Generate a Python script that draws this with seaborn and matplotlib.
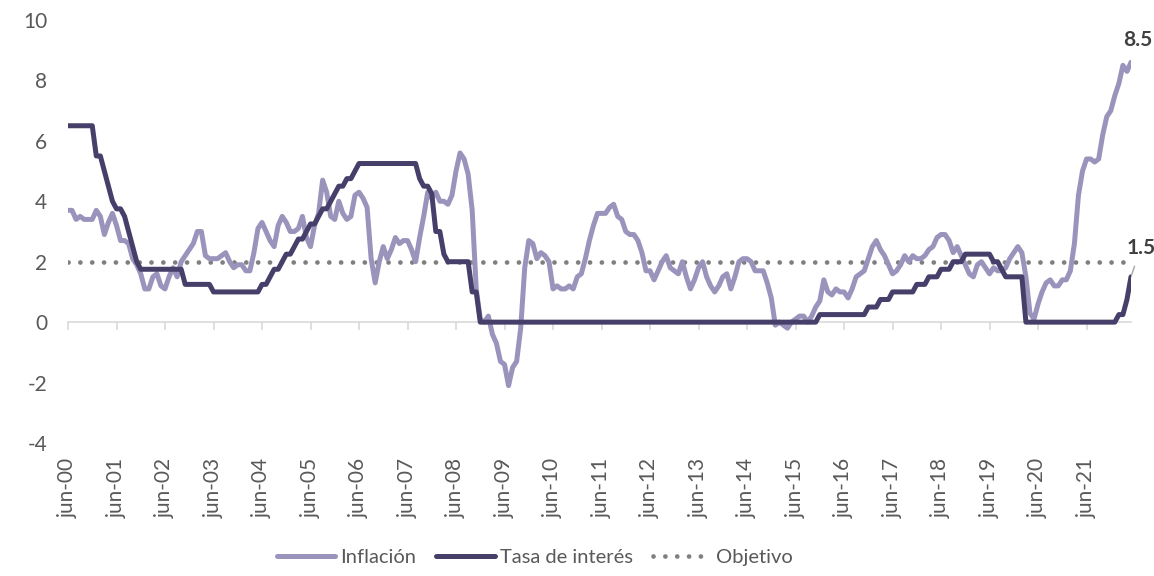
import numpy as np
import pandas as pd
import matplotlib
matplotlib.use("Agg")
import matplotlib.pyplot as plt
import seaborn as sns

# ---------------- data (monthly, jun-2000 .. may-2022) ----------------
inflacion = [
    # 2000 jun-dec
    3.7, 3.7, 3.4, 3.5, 3.4, 3.4, 3.4,
    # 2001
    3.7, 3.5, 2.9, 3.3, 3.6, 3.2, 2.7, 2.7, 2.6, 2.1, 1.9, 1.6,
    # 2002
    1.1, 1.1, 1.5, 1.6, 1.2, 1.1, 1.5, 1.8, 1.5, 2.0, 2.2, 2.4,
    # 2003
    2.6, 3.0, 3.0, 2.2, 2.1, 2.1, 2.1, 2.2, 2.3, 2.0, 1.8, 1.9,
    # 2004
    1.9, 1.7, 1.7, 2.3, 3.1, 3.3, 3.0, 2.7, 2.5, 3.2, 3.5, 3.3,
    # 2005
    3.0, 3.0, 3.1, 3.5, 2.8, 2.5, 3.2, 3.6, 4.7, 4.3, 3.5, 3.4,
    # 2006
    4.0, 3.6, 3.4, 3.5, 4.2, 4.3, 4.1, 3.8, 2.1, 1.3, 2.0, 2.5,
    # 2007
    2.1, 2.4, 2.8, 2.6, 2.7, 2.7, 2.4, 2.0, 2.8, 3.5, 4.3, 4.1,
    # 2008
    4.3, 4.0, 4.0, 3.9, 4.2, 5.0, 5.6, 5.4, 4.9, 3.7, 1.1, 0.1,
    # 2009
    0.0, 0.2, -0.4, -0.7, -1.3, -1.4, -2.1, -1.5, -1.3, -0.2, 1.8, 2.7,
    # 2010
    2.6, 2.1, 2.3, 2.2, 2.0, 1.1, 1.2, 1.1, 1.1, 1.2, 1.1, 1.5,
    # 2011
    1.6, 2.1, 2.7, 3.2, 3.6, 3.6, 3.6, 3.8, 3.9, 3.5, 3.4, 3.0,
    # 2012
    2.9, 2.9, 2.7, 2.3, 1.7, 1.7, 1.4, 1.7, 2.0, 2.2, 1.8, 1.7,
    # 2013
    1.6, 2.0, 1.5, 1.1, 1.4, 1.8, 2.0, 1.5, 1.2, 1.0, 1.2, 1.5,
    # 2014
    1.6, 1.1, 1.5, 2.0, 2.1, 2.1, 2.0, 1.7, 1.7, 1.7, 1.3, 0.8,
    # 2015
    -0.1, 0.0, -0.1, -0.2, 0.0, 0.1, 0.2, 0.2, 0.0, 0.2, 0.5, 0.7,
    # 2016
    1.4, 1.0, 0.9, 1.1, 1.0, 1.0, 0.8, 1.1, 1.5, 1.6, 1.7, 2.1,
    # 2017
    2.5, 2.7, 2.4, 2.2, 1.9, 1.6, 1.7, 1.9, 2.2, 2.0, 2.2, 2.1,
    # 2018
    2.1, 2.2, 2.4, 2.5, 2.8, 2.9, 2.9, 2.7, 2.3, 2.5, 2.2, 1.9,
    # 2019
    1.6, 1.5, 1.9, 2.0, 1.8, 1.6, 1.8, 1.7, 1.7, 1.8, 2.1, 2.3,
    # 2020
    2.5, 2.3, 1.5, 0.3, 0.1, 0.6, 1.0, 1.3, 1.4, 1.2, 1.2, 1.4,
    # 2021
    1.4, 1.7, 2.6, 4.2, 5.0, 5.4, 5.4, 5.3, 5.4, 6.2, 6.8, 7.0,
    # 2022 jan-may
    7.5, 7.9, 8.5, 8.3, 8.6,
]

tasa_interes = [
    # 2000 jun-dec
    6.5, 6.5, 6.5, 6.5, 6.5, 6.5, 6.5,
    # 2001
    5.5, 5.5, 5.0, 4.5, 4.0, 3.75, 3.75, 3.5, 3.0, 2.5, 2.0, 1.75,
    # 2002
    1.75, 1.75, 1.75, 1.75, 1.75, 1.75, 1.75, 1.75, 1.75, 1.75, 1.25, 1.25,
    # 2003
    1.25, 1.25, 1.25, 1.25, 1.25, 1.0, 1.0, 1.0, 1.0, 1.0, 1.0, 1.0,
    # 2004
    1.0, 1.0, 1.0, 1.0, 1.0, 1.25, 1.25, 1.5, 1.75, 1.75, 2.0, 2.25,
    # 2005
    2.25, 2.5, 2.75, 2.75, 3.0, 3.25, 3.25, 3.5, 3.75, 3.75, 4.0, 4.25,
    # 2006
    4.5, 4.5, 4.75, 4.75, 5.0, 5.25, 5.25, 5.25, 5.25, 5.25, 5.25, 5.25,
    # 2007
    5.25, 5.25, 5.25, 5.25, 5.25, 5.25, 5.25, 5.25, 4.75, 4.5, 4.5, 4.25,
    # 2008
    3.0, 3.0, 2.25, 2.0, 2.0, 2.0, 2.0, 2.0, 2.0, 1.0, 1.0, 0.0,
    # 2009
    0, 0, 0, 0, 0, 0, 0, 0, 0, 0, 0, 0,
    # 2010
    0, 0, 0, 0, 0, 0, 0, 0, 0, 0, 0, 0,
    # 2011
    0, 0, 0, 0, 0, 0, 0, 0, 0, 0, 0, 0,
    # 2012
    0, 0, 0, 0, 0, 0, 0, 0, 0, 0, 0, 0,
    # 2013
    0, 0, 0, 0, 0, 0, 0, 0, 0, 0, 0, 0,
    # 2014
    0, 0, 0, 0, 0, 0, 0, 0, 0, 0, 0, 0,
    # 2015
    0, 0, 0, 0, 0, 0, 0, 0, 0, 0, 0, 0.25,
    # 2016
    0.25, 0.25, 0.25, 0.25, 0.25, 0.25, 0.25, 0.25, 0.25, 0.25, 0.25, 0.5,
    # 2017
    0.5, 0.5, 0.75, 0.75, 0.75, 1.0, 1.0, 1.0, 1.0, 1.0, 1.0, 1.25,
    # 2018
    1.25, 1.25, 1.5, 1.5, 1.5, 1.75, 1.75, 1.75, 2.0, 2.0, 2.0, 2.25,
    # 2019
    2.25, 2.25, 2.25, 2.25, 2.25, 2.25, 2.0, 2.0, 1.75, 1.5, 1.5, 1.5,
    # 2020
    1.5, 1.5, 0, 0, 0, 0, 0, 0, 0, 0, 0, 0,
    # 2021
    0, 0, 0, 0, 0, 0, 0, 0, 0, 0, 0, 0,
    # 2022 jan-may
    0, 0.25, 0.25, 0.75, 1.5,
]

objetivo = 2.0

tick_labels = ["jun-%02d" % y for y in range(0, 22)]
tick_months = [12 * i for i in range(len(tick_labels))]

meses = np.arange(len(inflacion))
df = pd.DataFrame({"mes": meses, "Inflación": inflacion, "Tasa de interés": tasa_interes})

# ---------------- style ----------------
sns.set_theme(style="white")
plt.rcParams["font.family"] = ["Lato", "DejaVu Sans"]
plt.rcParams["axes.unicode_minus"] = False

C_INF = "#9a94bc"
C_TASA = "#463f6a"
C_OBJ = "#7f7f7f"
C_TXT = "#595959"
LW = 3.6
FS = 15

fig = plt.figure(figsize=(11.54, 5.76), dpi=100)
W, H = 1154, 576
ax = fig.add_axes([68 / W, 1 - 443 / H, (1131 - 68) / W, (443 - 20) / H])

line_kw = dict(solid_capstyle="round", solid_joinstyle="round")
sns.lineplot(data=df, x="mes", y="Inflación", ax=ax, color=C_INF, linewidth=LW,
             label="Inflación", zorder=4, **line_kw)
sns.lineplot(data=df, x="mes", y="Tasa de interés", ax=ax, color=C_TASA, linewidth=LW,
             label="Tasa de interés", zorder=5, **line_kw)
ax.axhline(objetivo, color=C_OBJ, linewidth=3.4, linestyle=(0, (0.01, 2.5)),
           dash_capstyle="round", label="Objetivo", zorder=3)

ax.set_xlim(0, len(inflacion) - 1)
ax.set_ylim(-4, 10)
ax.set_yticks([-4, -2, 0, 2, 4, 6, 8, 10])
ax.set_xticks(tick_months)
ax.set_xticklabels(tick_labels, rotation=90)
ax.set_xlabel("")
ax.set_ylabel("")
for s in ax.spines.values():
    s.set_visible(False)
ax.tick_params(axis="x", length=0, pad=11, labelsize=FS, labelcolor=C_TXT)
ax.tick_params(axis="y", length=0, pad=15, labelsize=FS, labelcolor=C_TXT)

# axis line with tick marks at y = 0
sec = ax.secondary_xaxis(0, transform=ax.transData)
sec.set_xticks(tick_months)
sec.set_xticklabels([])
sec.tick_params(axis="x", length=6, width=1.2, color="#d9d9d9", direction="out")
sec.spines["bottom"].set_color("#d9d9d9")
sec.spines["bottom"].set_linewidth(1.2)

# end-point labels
ax.annotate("8.5", xy=(meses[-1], inflacion[-1]), xytext=(5, 16),
            textcoords="offset points", ha="center", va="center",
            fontsize=FS, fontweight="bold", color="#404040")
ax.annotate("1.5", xy=(meses[-1], tasa_interes[-1]), xytext=(7, 21),
            textcoords="offset points", ha="center", va="center",
            fontsize=FS, fontweight="bold", color="#404040",
            arrowprops=dict(arrowstyle="-", color="#a6a6a6", lw=1.0,
                            shrinkA=4, shrinkB=0))

# legend
handles, labels = ax.get_legend_handles_labels()
if ax.get_legend() is not None:
    ax.get_legend().remove()
leg = fig.legend(handles, labels, loc="center", bbox_to_anchor=(535 / W, 19 / H),
                 ncol=3, frameon=False, fontsize=14.5, handlelength=2.9,
                 handletextpad=0.25, columnspacing=1.0, labelcolor=C_TXT)
for lh in leg.get_lines():
    lh.set_solid_capstyle("round")

fig.savefig("out.png", dpi=100)
